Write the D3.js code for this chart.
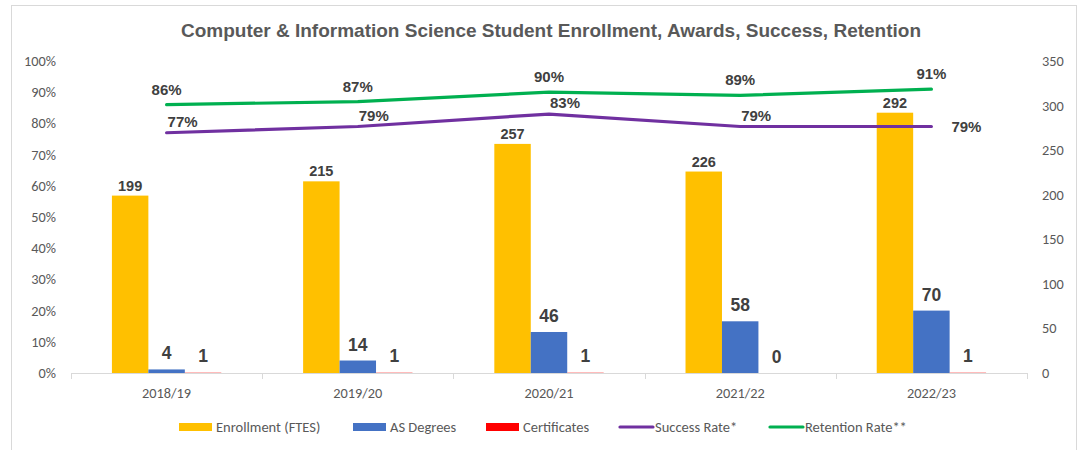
<!DOCTYPE html>
<html>
<head>
<meta charset="utf-8">
<script src="https://cdn.jsdelivr.net/npm/d3@7"></script>
<style>
  body { margin: 0; background: #fff; }
  svg { display: block; }
</style>
</head>
<body>
<svg id="chart"></svg>
<script>
const years = ["2018/19", "2019/20", "2020/21", "2021/22", "2022/23"];
const enrollment = [199, 215, 257, 226, 292];
const asDegrees = [4, 14, 46, 58, 70];
const certificates = [1, 1, 1, 0, 1];
const successRate = [0.77, 0.79, 0.83, 0.79, 0.79];
const retentionRate = [0.86, 0.87, 0.90, 0.89, 0.91];
const leftTicks = [0, 0.1, 0.2, 0.3, 0.4, 0.5, 0.6, 0.7, 0.8, 0.9, 1];
const rightTicks = [0, 50, 100, 150, 200, 250, 300, 350];

const width = 1082;
const height = 450;
const margin = { left: 71, right: 55, top: 61, bottom: 77 };
const plotRight = width - margin.right;
const plotBottom = height - margin.bottom;

const labelFont = "'Liberation Sans', Arial, sans-serif";
const axisFont = "Calibri, Carlito, Lato, 'Open Sans', sans-serif";

const svg = d3.select("#chart")
  .attr("width", width)
  .attr("height", height);

// chart frame
svg.append("rect")
  .attr("x", 11.5).attr("y", 5.5)
  .attr("width", 1065).attr("height", 460)
  .attr("fill", "#fff")
  .attr("stroke", "#d9d9d9");

svg.append("text")
  .attr("x", 551).attr("y", 37)
  .attr("text-anchor", "middle")
  .attr("font-family", labelFont)
  .attr("font-weight", "bold")
  .attr("font-size", 19)
  .attr("fill", "#595959")
  .text("Computer & Information Science Student Enrollment, Awards, Success, Retention");

const x0 = d3.scaleBand()
  .domain(years)
  .range([margin.left, plotRight]);

const bw = x0.bandwidth();

const barSeries = [
  { name: "Enrollment (FTES)", values: enrollment, color: "#ffc000", size: 14.5, gap: 5 },
  { name: "AS Degrees", values: asDegrees, color: "#4472c4", size: 17.5, gap: 10 },
  { name: "Certificates", values: certificates, color: "#ff0000", size: 17.5, gap: 10 }
];

const x1 = d3.scaleBand()
  .domain(barSeries.map(d => d.name))
  .range([bw * 0.214, bw * 0.786]);

const yLeft = d3.scaleLinear().domain([0, 1]).range([plotBottom, margin.top]);
const yRight = d3.scaleLinear().domain([0, 350]).range([plotBottom, margin.top]);

// left axis labels
svg.append("g")
  .selectAll("text")
  .data(leftTicks)
  .join("text")
  .attr("x", 56)
  .attr("y", d => yLeft(d))
  .attr("dy", "0.35em")
  .attr("text-anchor", "end")
  .attr("font-family", axisFont)
  .attr("font-size", 14.3)
  .attr("fill", "#595959")
  .text(d3.format(".0%"));

// right axis labels
svg.append("g")
  .selectAll("text")
  .data(rightTicks)
  .join("text")
  .attr("x", 1042)
  .attr("y", d => yRight(d))
  .attr("dy", "0.35em")
  .attr("text-anchor", "start")
  .attr("font-family", axisFont)
  .attr("font-size", 14.3)
  .attr("fill", "#595959")
  .text(d => d);

// bars
barSeries.forEach(s => {
  const g = svg.append("g");
  g.selectAll("rect")
    .data(years)
    .join("rect")
    .attr("x", (d) => x0(d) + x1(s.name))
    .attr("width", x1.bandwidth())
    .attr("y", (d, i) => yRight(s.values[i]))
    .attr("height", (d, i) => plotBottom - yRight(s.values[i]))
    .attr("fill", s.color)
    .attr("opacity", s.name === "Certificates" ? 0.3 : 1);

  g.selectAll("text")
    .data(years)
    .join("text")
    .attr("x", d => x0(d) + x1(s.name) + x1.bandwidth() / 2)
    .attr("y", (d, i) => yRight(s.values[i]) - s.gap)
    .attr("text-anchor", "middle")
    .attr("font-family", labelFont)
    .attr("font-weight", "bold")
    .attr("font-size", s.size)
    .attr("fill", "#404040")
    .text((d, i) => s.values[i]);
});

// x axis
const xAxis = svg.append("g");
xAxis.append("line")
  .attr("x1", margin.left).attr("x2", plotRight)
  .attr("y1", plotBottom + 0.5).attr("y2", plotBottom + 0.5)
  .attr("stroke", "#d9d9d9");
xAxis.selectAll("line.tick")
  .data(years.map(d => x0(d)).concat([plotRight]))
  .join("line")
  .attr("class", "tick")
  .attr("x1", d => Math.round(d) + 0.5).attr("x2", d => Math.round(d) + 0.5)
  .attr("y1", plotBottom).attr("y2", plotBottom + 6)
  .attr("stroke", "#d9d9d9");
xAxis.selectAll("text")
  .data(years)
  .join("text")
  .attr("x", d => x0(d) + bw / 2)
  .attr("y", plotBottom + 25)
  .attr("text-anchor", "middle")
  .attr("font-family", axisFont)
  .attr("font-size", 14.3)
  .attr("fill", "#595959")
  .text(d => d);

// lines
const cx = d => x0(d) + bw / 2;
const lineSeries = [
  { name: "Success Rate*", values: successRate, color: "#7030a0", dx: 16, dy: -6 },
  { name: "Retention Rate**", values: retentionRate, color: "#00b050", dx: 0, dy: -10 }
];

lineSeries.forEach(s => {
  const line = d3.line()
    .x((d, i) => cx(years[i]))
    .y(d => yLeft(d));

  svg.append("path")
    .datum(s.values)
    .attr("d", line)
    .attr("fill", "none")
    .attr("stroke", s.color)
    .attr("stroke-width", 3.2)
    .attr("stroke-linecap", "round")
    .attr("stroke-linejoin", "round");

  svg.append("g")
    .selectAll("text")
    .data(s.values)
    .join("text")
    .attr("x", (d, i) => {
      if (s.dx && i === s.values.length - 1) return cx(years[i]) + 20;
      return cx(years[i]) + s.dx;
    })
    .attr("y", (d, i) => {
      if (s.dx && i === s.values.length - 1) return yLeft(d) + 5;
      return yLeft(d) + s.dy;
    })
    .attr("text-anchor", (d, i) => (s.dx && i === s.values.length - 1) ? "start" : "middle")
    .attr("font-family", labelFont)
    .attr("font-weight", "bold")
    .attr("font-size", 15)
    .attr("fill", "#404040")
    .text(d3.format(".0%"));
});

// legend
const legendItems = [
  { name: "Enrollment (FTES)", color: "#ffc000", type: "rect", x: 179 },
  { name: "AS Degrees", color: "#4472c4", type: "rect", x: 353 },
  { name: "Certificates", color: "#ff0000", type: "rect", x: 486 },
  { name: "Success Rate*", color: "#7030a0", type: "line", x: 619 },
  { name: "Retention Rate**", color: "#00b050", type: "line", x: 769 }
];

const legend = svg.append("g");
const ly = 427;
legendItems.forEach(item => {
  if (item.type === "rect") {
    legend.append("rect")
      .attr("x", item.x).attr("y", ly - 4)
      .attr("width", 33).attr("height", 8)
      .attr("fill", item.color);
  } else {
    legend.append("line")
      .attr("x1", item.x + 1).attr("x2", item.x + 34)
      .attr("y1", ly).attr("y2", ly)
      .attr("stroke", item.color)
      .attr("stroke-width", 3.2)
      .attr("stroke-linecap", "round");
  }
  legend.append("text")
    .attr("x", item.x + (item.type === "rect" ? 37 : 36))
    .attr("y", ly)
    .attr("dy", "0.35em")
    .attr("font-family", axisFont)
    .attr("font-size", 14.5)
    .attr("fill", "#595959")
    .text(item.name);
});
</script>
</body>
</html>
